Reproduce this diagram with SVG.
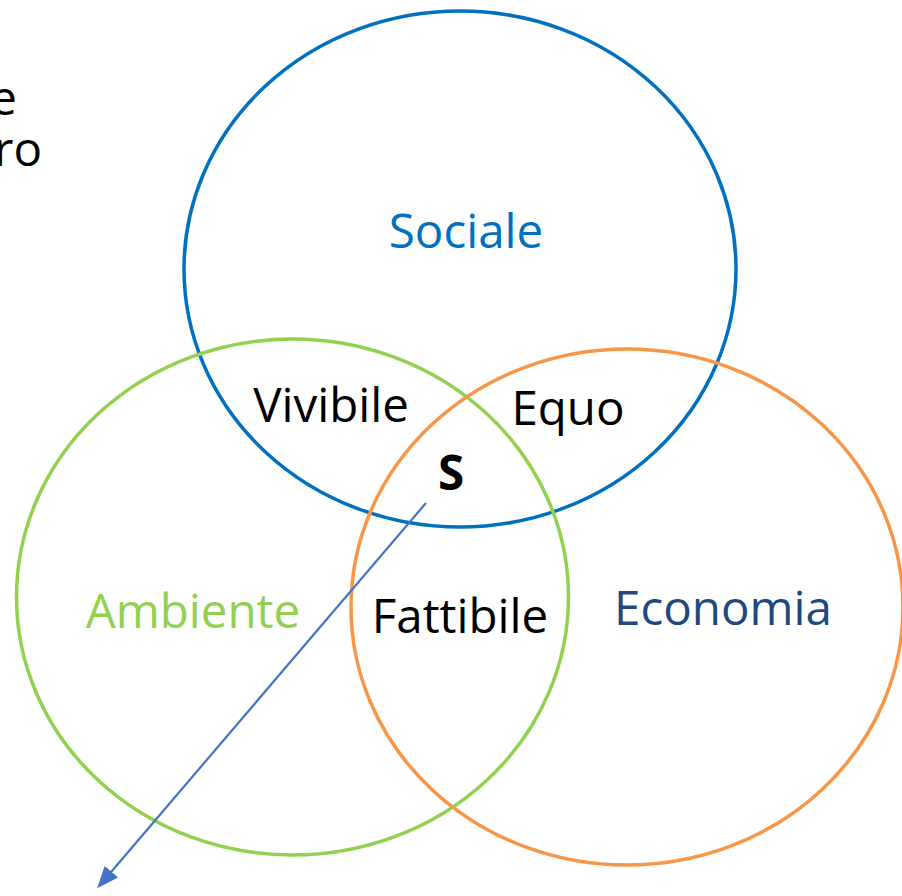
<svg xmlns="http://www.w3.org/2000/svg" width="902" height="896" viewBox="0 0 902 896">
<defs>
<style>
text{font-family:"Open Sans","Noto Sans","DejaVu Sans",sans-serif;font-size:47.5px;fill:#000}
.c{fill:none;stroke-width:3.5}
</style>
<marker id="ah" markerWidth="10" markerHeight="8" refX="8" refY="4" orient="auto" markerUnits="strokeWidth">
<path d="M0,0 L10,4 L0,8 z" fill="#4472C4"/>
</marker>
</defs>
<rect width="902" height="896" fill="#fff"/>
<g id="sideText">
<text x="17" y="115" text-anchor="end" font-size="40">e</text>
<text x="42" y="166" text-anchor="end" font-size="40">ro</text>
</g>
<g id="sociale">
<ellipse class="c" cx="460" cy="269" rx="276" ry="258" stroke="#0070C0"/>
<text x="466" y="248" text-anchor="middle" style="fill:#0070C0">Sociale</text>
</g>
<g id="ambiente">
<ellipse class="c" cx="292.5" cy="597" rx="276" ry="258" stroke="#92D050"/>
<text x="193" y="628" text-anchor="middle" style="fill:#92D050">Ambiente</text>
</g>
<g id="economia">
<ellipse class="c" cx="627" cy="607" rx="276" ry="258" stroke="#F79646"/>
<text x="723" y="625" text-anchor="middle" style="fill:#1F497D">Economia</text>
</g>
<g id="vivibile"><text x="331" y="422" text-anchor="middle">Vivibile</text></g>
<g id="equo"><text x="568" y="425" text-anchor="middle">Equo</text></g>
<g id="fattibile"><text x="460" y="633" text-anchor="middle">Fattibile</text></g>
<g id="s"><text x="451" y="490" text-anchor="middle" font-weight="bold" font-size="42">S</text></g>
<g id="connectors">
<line x1="426" y1="503" x2="100" y2="885" stroke="#4472C4" stroke-width="2.2" marker-end="url(#ah)"/>
</g>
</svg>
